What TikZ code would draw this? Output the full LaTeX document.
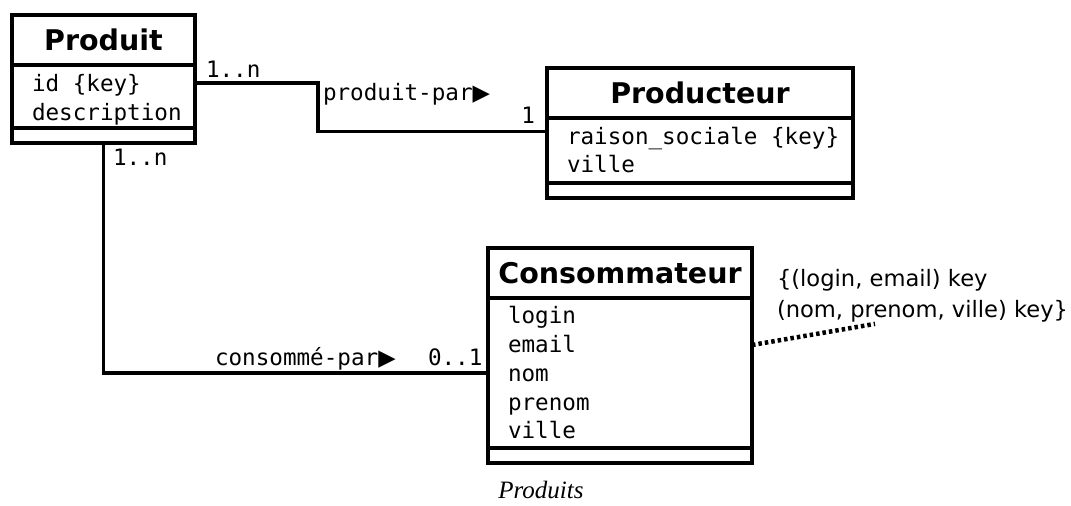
\documentclass[tikz,border=0pt]{standalone}
\usepackage{fontspec}
\setmainfont{Liberation Serif}
\setsansfont{DejaVu Sans}
\setmonofont{DejaVu Sans Mono}
\newfontfamily\tipfont{DejaVu Sans}
\usetikzlibrary{positioning}

\newcommand{\dirtip}{{\tipfont ▶}}
\newcommand{\msp}{\kern.602em}

\begin{document}
\begin{tikzpicture}[x=1pt,y=-1pt,line width=4pt,
    box/.style={draw,rectangle,outer sep=0pt,inner sep=0pt},
    classname/.style={box,minimum height=50pt,font=\sffamily\bfseries\fontsize{28.5}{34}\selectfont},
    attrs/.style={box,align=left,inner xsep=20pt,font=\ttfamily\fontsize{22.6}{28.75}\selectfont},
    ops/.style={box,minimum height=15pt},
    link/.style={line width=3.3pt},
    card/.style={font=\ttfamily\fontsize{22.6}{27}\selectfont,inner sep=0pt}]

\useasboundingbox (0,0) rectangle (1071,506);

\node[classname, minimum width=183pt] (produitT) at (103.5,40) {Produit};
\node[attrs, text width=143pt, minimum height=63pt] (produitA) [below=0pt of produitT] {\rule{0pt}{24pt}id\msp\{key\}\\description};
\node[ops, minimum width=183pt] (produitO) [below=0pt of produitA] {};

\node[classname, minimum width=306pt] (producteurT) at (700,92.5) {Producteur};
\node[attrs, text width=266pt, minimum height=65pt] (producteurA) [below=0pt of producteurT] {raison\_sociale\msp\{key\}\\ville};
\node[ops, minimum width=306pt] (producteurO) [below=0pt of producteurA] {};

\node[classname, minimum width=264pt] (consommateurT) at (620,273) {Consommateur};
\node[attrs, text width=224pt, minimum height=150pt] (consommateurA) [below=0pt of consommateurT] {login\\email\\nom\\prenom\\ville};
\node[ops, minimum width=264pt] (consommateurO) [below=0pt of consommateurA] {};

\node[font=\sffamily\fontsize{22.6}{31}\selectfont, align=left, inner sep=0pt, anchor=north west] (keysNote) at (775,267)
  {\{(login, email) key\\(nom, prenom, ville) key\}};

\draw[link] ([yshift=-18pt]produitA.north east) -- ++(123,0) |- ([yshift=-14pt]producteurA.north west);
\draw[link] (produitO.south) |- (consommateurA.west);
\draw[line width=4.5pt, dash pattern=on 3.5pt off 3pt] ([yshift=28pt]consommateurA.east) -- ([xshift=100pt]keysNote.south west);

\node[card, anchor=base west] (cardPdA) at (204,77) {1..n};
\node[card, anchor=base west] (roleProd) at (321,100) {produit-par\dirtip};
\node[card, anchor=base east] (cardPdB) at (537,123) {1};
\node[card, anchor=base west] (cardCsA) at (111,165) {1..n};
\node[card, anchor=base west] (roleCons) at (213,365) {consommé-par\dirtip};
\node[card, anchor=base west] (cardCsB) at (426,365) {0..1};

\node[font=\itshape\fontsize{25}{30}\selectfont, anchor=base] (caption) at (541,498) {Produits};

\end{tikzpicture}
\end{document}
